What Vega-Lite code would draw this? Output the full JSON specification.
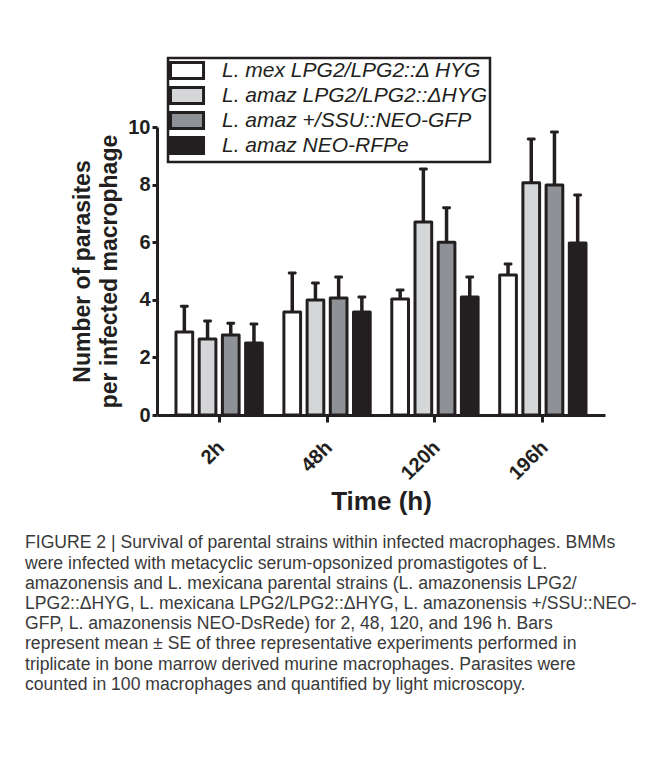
{
  "$schema": "https://vega.github.io/schema/vega-lite/v6.json",
  "autosize": {"type": "none"},
  "width": 448,
  "height": 288,
  "padding": {"left": 157, "top": 127, "right": 41, "bottom": 343},
  "background": "white",
  "config": {
    "view": {"stroke": null},
    "font": "Liberation Sans"
  },
  "title": {
    "text": [
      "FIGURE 2 | Survival of parental strains within infected macrophages. BMMs",
      "were infected with metacyclic serum-opsonized promastigotes of L.",
      "amazonensis and L. mexicana parental strains (L. amazonensis LPG2/",
      "LPG2::ΔHYG, L. mexicana LPG2/LPG2::ΔHYG, L. amazonensis +/SSU::NEO-",
      "GFP, L. amazonensis NEO-DsRede) for 2, 48, 120, and 196 h. Bars",
      "represent mean ± SE of three representative experiments performed in",
      "triplicate in bone marrow derived murine macrophages. Parasites were",
      "counted in 100 macrophages and quantified by light microscopy."
    ],
    "orient": "bottom",
    "anchor": "start",
    "frame": "group",
    "dx": -132,
    "offset": 20,
    "limit": 640,
    "font": "Liberation Sans",
    "fontSize": 17.6,
    "fontWeight": "normal",
    "color": "#3a3a3a",
    "lineHeight": 20.2,
    "baseline": "top"
  },
  "data": {
    "values": [
      {"time": "2h", "strain": "L. mex LPG2/LPG2::Δ HYG", "mean": 2.88, "upper": 3.78},
      {"time": "2h", "strain": "L. amaz LPG2/LPG2::ΔHYG", "mean": 2.64, "upper": 3.26},
      {"time": "2h", "strain": "L. amaz +/SSU::NEO-GFP", "mean": 2.78, "upper": 3.19},
      {"time": "2h", "strain": "L. amaz NEO-RFPe", "mean": 2.5, "upper": 3.16},
      {"time": "48h", "strain": "L. mex LPG2/LPG2::Δ HYG", "mean": 3.58, "upper": 4.93},
      {"time": "48h", "strain": "L. amaz LPG2/LPG2::ΔHYG", "mean": 3.99, "upper": 4.58},
      {"time": "48h", "strain": "L. amaz +/SSU::NEO-GFP", "mean": 4.06, "upper": 4.79},
      {"time": "48h", "strain": "L. amaz NEO-RFPe", "mean": 3.58, "upper": 4.1},
      {"time": "120h", "strain": "L. mex LPG2/LPG2::Δ HYG", "mean": 4.03, "upper": 4.34},
      {"time": "120h", "strain": "L. amaz LPG2/LPG2::ΔHYG", "mean": 6.7, "upper": 8.54},
      {"time": "120h", "strain": "L. amaz +/SSU::NEO-GFP", "mean": 6.0, "upper": 7.2},
      {"time": "120h", "strain": "L. amaz NEO-RFPe", "mean": 4.1, "upper": 4.79},
      {"time": "196h", "strain": "L. mex LPG2/LPG2::Δ HYG", "mean": 4.86, "upper": 5.24},
      {"time": "196h", "strain": "L. amaz LPG2/LPG2::ΔHYG", "mean": 8.06, "upper": 9.58},
      {"time": "196h", "strain": "L. amaz +/SSU::NEO-GFP", "mean": 7.99, "upper": 9.83},
      {"time": "196h", "strain": "L. amaz NEO-RFPe", "mean": 5.97, "upper": 7.64}
    ]
  },
  "encoding": {
    "x": {
      "field": "time",
      "type": "nominal",
      "sort": ["2h", "48h", "120h", "196h"],
      "scale": {"paddingInner": 0.2, "paddingOuter": 0.176},
      "axis": {
        "title": "Time (h)",
        "titleFont": "Liberation Sans",
        "titleFontSize": 26,
        "titleFontWeight": "bold",
        "titleColor": "#231f20",
        "titlePadding": 5,
        "labelAngle": -45,
        "labelFont": "Liberation Sans",
        "labelFontSize": 20,
        "labelFontWeight": "bold",
        "labelColor": "#231f20",
        "labelPadding": 15,
        "labelOffset": -5,
        "domainColor": "#231f20",
        "domainWidth": 3,
        "tickColor": "#231f20",
        "tickWidth": 3,
        "tickSize": 7
      }
    },
    "xOffset": {
      "field": "strain",
      "type": "nominal",
      "sort": ["L. mex LPG2/LPG2::Δ HYG", "L. amaz LPG2/LPG2::ΔHYG", "L. amaz +/SSU::NEO-GFP", "L. amaz NEO-RFPe"],
      "scale": {"paddingInner": 0.28, "paddingOuter": 0}
    }
  },
  "layer": [
    {
      "mark": {"type": "bar", "stroke": "#231f20", "strokeWidth": 3, "strokeJoin": "round"},
      "encoding": {
        "y": {
          "field": "mean",
          "type": "quantitative",
          "scale": {"domain": [0, 10], "nice": false},
          "axis": {
            "title": ["Number of parasites", "per infected macrophage"],
            "titleFont": "Liberation Sans",
            "titleFontSize": 23,
            "titleFontWeight": "bold",
            "titleColor": "#231f20",
            "titleLineHeight": 27,
            "titlePadding": 6,
            "values": [0, 2, 4, 6, 8, 10],
            "grid": false,
            "labelFont": "Liberation Sans",
            "labelFontSize": 20,
            "labelFontWeight": "bold",
            "labelColor": "#231f20",
            "labelPadding": 2,
            "domainColor": "#231f20",
            "domainWidth": 3,
            "tickColor": "#231f20",
            "tickWidth": 3,
            "tickSize": 5
          }
        },
        "fill": {
          "field": "strain",
          "type": "nominal",
          "scale": {
            "domain": ["L. mex LPG2/LPG2::Δ HYG", "L. amaz LPG2/LPG2::ΔHYG", "L. amaz +/SSU::NEO-GFP", "L. amaz NEO-RFPe"],
            "range": ["#ffffff", "#d4d6d8", "#8e9296", "#231f20"]
          },
          "legend": {
            "title": null,
            "orient": "none",
            "legendX": 11,
            "legendY": -69,
            "padding": 2,
            "strokeColor": "#231f20",
            "fillColor": "white",
            "symbolType": "M-1.11,-0.89H2.56V0.89H-1.11Z",
            "symbolSize": 324,
            "symbolStrokeColor": "#231f20",
            "symbolStrokeWidth": 3,
            "symbolOpacity": 1,
            "labelFont": "Liberation Sans",
            "labelFontStyle": "italic",
            "labelFontSize": 21,
            "labelColor": "#231f20",
            "labelOffset": 31,
            "labelLimit": 400,
            "rowPadding": -16,
            "encode": {"legend": {"update": {"strokeWidth": {"value": 2.5}}}}
          }
        }
      }
    },
    {
      "mark": {"type": "rule", "color": "#231f20", "strokeWidth": 3.5},
      "encoding": {
        "y": {"field": "mean", "type": "quantitative"},
        "y2": {"field": "upper"}
      }
    },
    {
      "mark": {"type": "tick", "color": "#231f20", "thickness": 3, "size": 9, "opacity": 1, "cornerRadius": 1.5},
      "encoding": {
        "y": {"field": "upper", "type": "quantitative"}
      }
    }
  ]
}
